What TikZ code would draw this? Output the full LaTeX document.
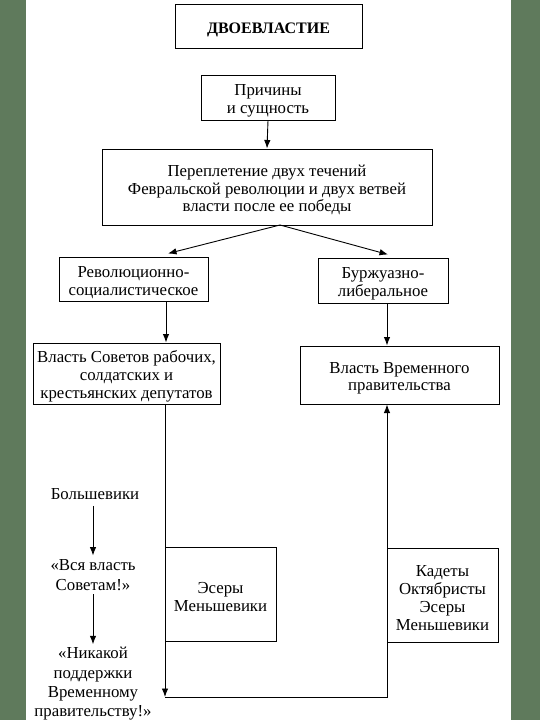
\documentclass[tikz,border=0pt]{standalone}
\usepackage{fontspec}
\setmainfont{Liberation Serif}
\usetikzlibrary{arrows.meta}
\definecolor{frame}{HTML}{5F7A5C}
\newcommand\topst{\rule{0pt}{17.5pt}}
\begin{document}
\begin{tikzpicture}[x=1pt,y=-1pt,
  box/.style={draw,line width=1pt,align=center,inner sep=0pt,font=\fontsize{16.8}{17.8}\selectfont},
  plain/.style={align=center,inner sep=0pt,font=\fontsize{16.8}{19.3}\selectfont},
  arr/.style={line width=0.9pt,-{Latex[length=8.5pt,width=6.5pt]}}]
\useasboundingbox (0,0) rectangle (540,720);
\fill[frame] (0,0) rectangle (540,720);
\fill[white] (26,0) rectangle (511,720);
\node[box,minimum width=187pt,minimum height=44pt,font=\fontsize{16}{18}\selectfont\bfseries] (title) at (268.5,26) {\topst ДВОЕВЛАСТИЕ};
\node[box,minimum width=134pt,minimum height=45pt] (prich) at (268,97.5) {\topst Причины\\и сущность};
\node[box,minimum width=330pt,minimum height=76pt] (big) at (267,187) {\topst Переплетение двух течений\\Февральской революции и двух ветвей\\власти после ее победы};
\node[box,minimum width=149pt,minimum height=44pt] (rev) at (133.5,279) {\topst Революционно-\\социалистическое};
\node[box,minimum width=130pt,minimum height=45pt] (burzh) at (383,280.5) {\topst Буржуазно-\\либеральное};
\node[box,minimum width=187pt,minimum height=61pt] (sov) at (126.5,373.5) {\topst Власть Советов рабочих,\\солдатских и\\крестьянских депутатов};
\node[box,minimum width=199pt,minimum height=58pt] (vrem) at (399.5,375) {\topst Власть Временного\\правительства};
\node[box,minimum width=111pt,minimum height=94pt] (eser) at (220.5,594) {\topst Эсеры\\Меньшевики};
\node[box,minimum width=111pt,minimum height=94pt] (kad) at (442.5,595) {\topst Кадеты\\Октябристы\\Эсеры\\Меньшевики};
\node[plain] (bolsh) at (95,494) {Большевики};
\node[plain] (vsya) at (93,575) {«Вся власть\\Советам!»};
\node[plain] (nikak) at (93,684) {«Никакой\\поддержки\\Временному\\правительству!»};
\coordinate (fork) at (280,225);
\coordinate (corner) at (165,697);
\draw[arr] (prich.south) -- (big.north);
\draw[arr] (fork) -- ([xshift=34.5pt,yshift=3pt]rev.north);
\draw[arr] (fork) -- ([xshift=5pt,yshift=3pt]burzh.north);
\draw[arr] ([xshift=32.5pt]rev.south) -- ([xshift=39.5pt]sov.north);
\draw[arr] ([xshift=4pt]burzh.south) -- ([xshift=-12.5pt]vrem.north);
\draw[arr] ([xshift=38.5pt]sov.south) -- (corner);
\draw[arr] (corner) -| ([xshift=-12.5pt]vrem.south);
\draw[arr] ([xshift=-2pt,yshift=-6pt]bolsh.south) -- ([yshift=4pt]vsya.north);
\draw[arr] ([yshift=-4pt]vsya.south) -- ([yshift=3pt]nikak.north);
\end{tikzpicture}
\end{document}
